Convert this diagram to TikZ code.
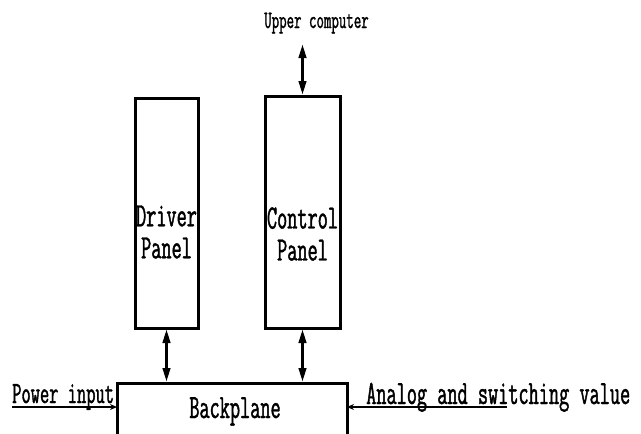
\documentclass[tikz,border=0pt]{standalone}
\usepackage{fontspec}
\usepackage{tikz}
\usetikzlibrary{arrows.meta,positioning}
\newfontfamily\hwfont[FakeStretch=0.58,FakeBold=1.2]{Latin Modern Mono}
\tikzset{
  every picture/.append style={line cap=butt,line join=miter},
  hw panel/.style={draw,line width=3pt,inner sep=0pt,outer sep=0pt},
  hw text/.style={font=\hwfont\fontsize{34}{32}\selectfont,align=center,inner sep=0pt},
  hw small/.style={font=\hwfont\fontsize{25}{25}\selectfont,inner sep=0pt},
  hw mid/.style={font=\hwfont\fontsize{31}{31}\selectfont,inner sep=0pt},
  hw bus/.style={line width=3.5pt,{Triangle[length=15pt,width=7pt]}-{Triangle[length=15pt,width=7pt]}},
  hw input/.style={line width=2.5pt,-{Stealth[length=7pt,width=6pt]}}
}
\begin{document}
\begin{tikzpicture}[x=1pt,y=-1pt]
  \useasboundingbox (0,0) rectangle (641,434);
  \clip (0,0) rectangle (641,434);
  % boxes
  \node[hw panel, minimum width=63pt, minimum height=230pt] (driver) at (166.5,213) {};
  \node[hw panel, minimum width=75pt, minimum height=232pt] (control) at (302.5,212) {};
  \node[hw panel, minimum width=230pt, minimum height=120pt] (bp) at (232,443) {};
  \node[hw text] (driverlbl) at ([yshift=-19pt]driver.center) {Driver\\Panel};
  \node[hw text] (controllbl) at ([yshift=-22pt]control.center) {Control\\Panel};
  \node[hw text, anchor=base] (bplbl) at (235,418) {Backplane};
  % links
  \node[hw small, anchor=base] (upper) at (316.5,28) {Upper computer};
  \coordinate (uppertip) at (302.5,43);
  \draw[hw bus] (uppertip) -- (control.north);
  \draw[hw bus] (driver.south) -- (driver.south |- bp.north);
  \draw[hw bus] (control.south) -- (control.south |- bp.north);
  % inputs
  \coordinate (pwr) at (12,407);
  \coordinate (ana) at (507,407);
  \draw[hw input] (pwr) -- (pwr -| bp.west);
  \draw[hw input] (ana) -- (ana -| bp.east);
  \node[hw mid, anchor=base west] (pwrlbl) at (12,403) {Power input};
  \node[hw text, anchor=base west] (analbl) at (366,404) {Analog and switching value};
\end{tikzpicture}
\end{document}
